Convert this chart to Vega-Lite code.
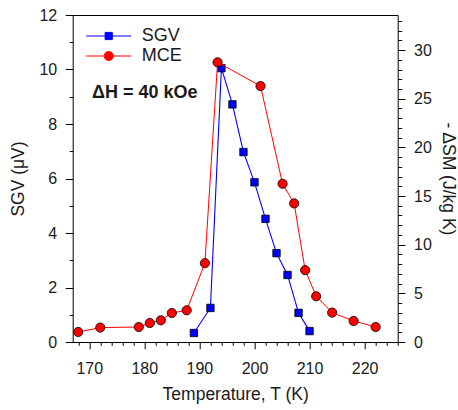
{
  "$schema": "https://vega.github.io/schema/vega-lite/v6.json",
  "width": 325,
  "height": 327,
  "autosize": {"type": "none"},
  "padding": {"left": 72.7, "top": 15, "right": 60.3, "bottom": 68},
  "config": {
    "view": {"stroke": "#000", "strokeWidth": 1},
    "font": "Liberation Sans",
    "axis": {
      "domain": false, "grid": false, "tickColor": "#000", "tickWidth": 1,
      "labelColor": "#1a1a1a", "titleColor": "#1a1a1a",
      "labelFont": "Liberation Sans", "titleFont": "Liberation Sans",
      "labelFontSize": 16, "titleFontSize": 17.5, "titleFontWeight": "normal"
    }
  },
  "data": {
    "values": [
      {"series": "SGV", "T": 189, "value": 0.33},
      {"series": "SGV", "T": 192, "value": 1.25},
      {"series": "SGV", "T": 194, "value": 10.05},
      {"series": "SGV", "T": 196, "value": 8.72},
      {"series": "SGV", "T": 198, "value": 6.97},
      {"series": "SGV", "T": 200, "value": 5.86},
      {"series": "SGV", "T": 202, "value": 4.52},
      {"series": "SGV", "T": 204, "value": 3.26},
      {"series": "SGV", "T": 206, "value": 2.46},
      {"series": "SGV", "T": 208, "value": 1.07},
      {"series": "SGV", "T": 210, "value": 0.40},
      {"series": "MCE", "T": 168, "value": 1.03},
      {"series": "MCE", "T": 172, "value": 1.48},
      {"series": "MCE", "T": 179, "value": 1.54},
      {"series": "MCE", "T": 181, "value": 1.95},
      {"series": "MCE", "T": 183, "value": 2.23},
      {"series": "MCE", "T": 185, "value": 2.98},
      {"series": "MCE", "T": 187.7, "value": 3.26},
      {"series": "MCE", "T": 191, "value": 8.10},
      {"series": "MCE", "T": 193.3, "value": 28.74},
      {"series": "MCE", "T": 201.1, "value": 26.3},
      {"series": "MCE", "T": 205.1, "value": 16.26},
      {"series": "MCE", "T": 207.2, "value": 14.24},
      {"series": "MCE", "T": 209.2, "value": 7.38},
      {"series": "MCE", "T": 211.2, "value": 4.70},
      {"series": "MCE", "T": 214.1, "value": 3.02},
      {"series": "MCE", "T": 218, "value": 2.16},
      {"series": "MCE", "T": 222, "value": 1.54}
    ]
  },
  "resolve": {"scale": {"y": "independent"}, "axis": {"x": "independent", "y": "independent"}},
  "layer": [
    {
      "transform": [{"filter": "datum.series === 'SGV'"}],
      "mark": {"type": "line", "strokeWidth": 1.1, "point": {"filled": true, "shape": "square", "size": 55, "stroke": "#000", "strokeWidth": 0.8}},
      "encoding": {
        "x": {"field": "T", "type": "quantitative", "scale": {"domain": [167, 226], "nice": false, "zero": false},
          "axis": {"orient": "bottom", "values": [170, 180, 190, 200, 210, 220], "format": "d", "tickSize": 6.7, "labelPadding": 12, "title": "Temperature, T (K)", "titlePadding": 9}},
        "y": {"field": "value", "type": "quantitative", "scale": {"domain": [0, 12], "nice": false, "zero": false},
          "axis": {"orient": "left", "values": [0, 2, 4, 6, 8, 10, 12], "format": "d", "tickSize": 7.5, "labelPadding": 8.5, "title": "SGV (μV)", "titlePadding": 11}},
        "color": {"field": "series", "type": "nominal", "scale": {"domain": ["SGV", "MCE"], "range": ["#0000ff", "#ff0000"]},
          "legend": {"orient": "none", "legendX": 13, "legendY": 11, "title": null, "padding": 0, "symbolSize": 2025, "clipHeight": 20, "rowPadding": -3, "labelOffset": 10, "labelFontSize": 18, "labelFont": "Liberation Sans", "labelColor": "#1a1a1a",
            "encode": {"symbols": {"update": {
              "shape": {"signal": "datum.value === 'SGV' ? 'M-1,0H-0.16M0.16,0H1M-0.16,-0.16H0.16V0.16H-0.16Z' : 'M-1,0H-0.2M0.2,0H1M-0.2,0A0.2,0.2 0 1,0 0.2,0A0.2,0.2 0 1,0 -0.2,0Z'"},
              "fill": {"signal": "datum.value === 'SGV' ? '#0000ff' : '#ff0000'"},
              "stroke": {"signal": "datum.value === 'SGV' ? '#0000ff' : '#ff0000'"},
              "strokeWidth": {"value": 1},
              "opacity": {"value": 1}
            }}}}}
      }
    },
    {
      "transform": [{"filter": "datum.series === 'MCE'"}],
      "mark": {"type": "line", "strokeWidth": 1, "point": {"filled": true, "shape": "circle", "size": 85, "stroke": "#000", "strokeWidth": 0.8}},
      "encoding": {
        "x": {"field": "T", "type": "quantitative", "scale": {"domain": [167, 226], "nice": false, "zero": false}, "axis": null},
        "y": {"field": "value", "type": "quantitative", "scale": {"domain": [0, 33.6], "nice": false, "zero": false},
          "axis": {"orient": "right", "values": [0, 5, 10, 15, 20, 25, 30], "format": "d", "tickSize": 7.3, "labelPadding": 8.5, "title": "- ΔSM (J/kg K)", "titlePadding": 7}},
        "color": {"field": "series", "type": "nominal", "scale": {"domain": ["SGV", "MCE"], "range": ["#0000ff", "#ff0000"]},
          "legend": {"orient": "none", "legendX": 13, "legendY": 11, "title": null, "padding": 0, "symbolSize": 2025, "clipHeight": 20, "rowPadding": -3, "labelOffset": 10, "labelFontSize": 18, "labelFont": "Liberation Sans", "labelColor": "#1a1a1a",
            "encode": {"symbols": {"update": {
              "shape": {"signal": "datum.value === 'SGV' ? 'M-1,0H-0.16M0.16,0H1M-0.16,-0.16H0.16V0.16H-0.16Z' : 'M-1,0H-0.2M0.2,0H1M-0.2,0A0.2,0.2 0 1,0 0.2,0A0.2,0.2 0 1,0 -0.2,0Z'"},
              "fill": {"signal": "datum.value === 'SGV' ? '#0000ff' : '#ff0000'"},
              "stroke": {"signal": "datum.value === 'SGV' ? '#0000ff' : '#ff0000'"},
              "strokeWidth": {"value": 1},
              "opacity": {"value": 1}
            }}}}}
      }
    },
    {
      "transform": [{"filter": "datum.series === 'SGV'"}],
      "mark": {"type": "point", "opacity": 0},
      "encoding": {
        "x": {"field": "T", "type": "quantitative", "scale": {"domain": [167, 226], "nice": false, "zero": false},
          "axis": {"orient": "bottom", "values": [168, 172, 174, 176, 178, 182, 184, 186, 188, 192, 194, 196, 198, 202, 204, 206, 208, 212, 214, 216, 218, 222, 224, 226], "tickSize": 3.3, "labels": false, "title": null}},
        "y": {"field": "value", "type": "quantitative", "scale": {"domain": [0, 12], "nice": false, "zero": false},
          "axis": {"orient": "left", "values": [1, 3, 5, 7, 9, 11], "tickSize": 3.5, "labels": false, "title": null}}
      }
    },
    {
      "transform": [{"filter": "datum.series === 'MCE'"}],
      "mark": {"type": "point", "opacity": 0},
      "encoding": {
        "x": {"field": "T", "type": "quantitative", "scale": {"domain": [167, 226], "nice": false, "zero": false}, "axis": null},
        "y": {"field": "value", "type": "quantitative", "scale": {"domain": [0, 33.6], "nice": false, "zero": false},
          "axis": {"orient": "right", "values": [1, 2, 3, 4, 6, 7, 8, 9, 11, 12, 13, 14, 16, 17, 18, 19, 21, 22, 23, 24, 26, 27, 28, 29, 31, 32, 33], "tickSize": 4, "labels": false, "title": null}}
      }
    },
    {
      "data": {"values": [{}]},
      "mark": {"type": "text", "fontSize": 18, "fontWeight": "bold", "font": "Liberation Sans", "align": "center", "baseline": "middle", "color": "#1a1a1a"},
      "encoding": {
        "x": {"datum": 180.1, "type": "quantitative", "scale": {"domain": [167, 226], "nice": false, "zero": false}, "axis": null},
        "y": {"datum": 9.15, "type": "quantitative", "scale": {"domain": [0, 12], "nice": false, "zero": false}, "axis": null},
        "text": {"value": "ΔH = 40 kOe"}
      }
    }
  ]
}
